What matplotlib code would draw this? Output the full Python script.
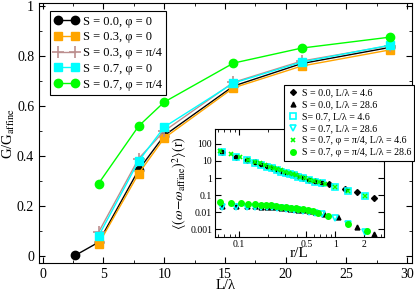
import matplotlib
matplotlib.use("Agg")
import matplotlib.pyplot as plt
from matplotlib.ticker import FixedLocator, FixedFormatter, MultipleLocator, LogLocator, NullFormatter

plt.rcParams['font.family'] = ['Liberation Serif', 'DejaVu Serif']
plt.rcParams['mathtext.fontset'] = 'stix'

# main panel: G/G_affine vs L/lambda
L_lam = [4.6, 7.9, 10.0, 15.7, 21.3, 28.6]
L_lam_s00 = [2.7, 4.6, 7.9, 10.0, 15.7, 21.3, 28.6]
G_s00_p0 = [0.003, 0.055, 0.345, 0.482, 0.68, 0.77, 0.835]
G_s03_p0 = [0.048, 0.33, 0.472, 0.673, 0.76, 0.825]
G_s03_p45 = [0.095, 0.39, 0.50, 0.695, 0.78, 0.842]
G_s07_p0 = [0.08, 0.38, 0.516, 0.692, 0.776, 0.844]
G_s07_p45 = [0.29, 0.52, 0.616, 0.772, 0.832, 0.876]

# inset: <(w - w_affine)^2>(r) vs r/L
r_b46 = [0.066, 0.093, 0.12, 0.146, 0.17, 0.195, 0.22, 0.247, 0.275, 0.305, 0.335,
         0.37, 0.41, 0.46, 0.53, 0.62, 0.72, 0.85, 1.25, 1.68, 2.5]
w_b46 = [33, 18, 11.5, 8.2, 6.4, 4.9, 3.9, 3.0, 2.5, 2.1, 1.8,
         1.5, 1.25, 1.0, 0.8, 0.63, 0.52, 0.43, 0.24, 0.15, 0.066]
r_b286 = [0.066, 0.093, 0.12, 0.146, 0.17, 0.195, 0.22, 0.247, 0.275, 0.305, 0.335,
          0.37, 0.41, 0.46, 0.53, 0.62, 0.77, 1.06, 1.67, 2.55]
w_b286 = [0.022, 0.022, 0.022, 0.022, 0.021, 0.021, 0.02, 0.019, 0.018, 0.017, 0.016,
          0.015, 0.014, 0.013, 0.011, 0.0095, 0.0073, 0.0051, 0.0014, 0.00052]
r_c46 = [0.066, 0.093, 0.12, 0.146, 0.17, 0.195, 0.22, 0.247, 0.275, 0.305, 0.335,
         0.37, 0.41, 0.46, 0.53, 0.62, 0.72, 1.0, 1.34, 2.05]
w_c46 = [32, 17, 11, 8.0, 6.2, 4.7, 3.7, 2.9, 2.4, 2.0, 1.7,
         1.45, 1.2, 0.95, 0.77, 0.62, 0.5, 0.28, 0.17, 0.088]
r_c286 = [0.066, 0.093, 0.12, 0.146, 0.17, 0.195, 0.22, 0.247, 0.275, 0.305, 0.335,
          0.37, 0.41, 0.46, 0.53, 0.62, 0.72, 1.0, 1.34, 2.05]
w_c286 = [0.021, 0.021, 0.021, 0.021, 0.02, 0.02, 0.019, 0.018, 0.017, 0.016, 0.015,
          0.014, 0.0135, 0.012, 0.0105, 0.009, 0.0075, 0.0045, 0.0019, 0.0007]
r_g46 = [0.063, 0.083, 0.103, 0.124, 0.145, 0.166, 0.187, 0.21, 0.23, 0.25, 0.275, 0.30,
         0.33, 0.36, 0.39, 0.43, 0.48, 0.54, 0.6, 0.68, 0.78, 1.0, 1.34, 2.05]
w_g46 = [37, 26, 16.5, 12, 9, 7.2, 5.8, 4.7, 4.0, 3.4, 2.9, 2.4,
         2.0, 1.7, 1.45, 1.2, 0.98, 0.8, 0.67, 0.55, 0.45, 0.29, 0.17, 0.09]
r_g286 = [0.063, 0.083, 0.104, 0.125, 0.146, 0.168, 0.19, 0.214, 0.241, 0.272, 0.306,
          0.346, 0.39, 0.41, 0.46, 0.52, 0.59, 0.665, 0.845, 1.34, 2.12]
w_g286 = [0.039, 0.035, 0.032, 0.031, 0.028, 0.027, 0.026, 0.025, 0.023, 0.021, 0.0196,
          0.018, 0.0168, 0.016, 0.0148, 0.0135, 0.0115, 0.0088, 0.0058, 0.002, 0.00073]

orange = '#FFA500'
brown = '#BC8F8F'
cyan = '#00FFFF'
green = '#00FF00'

fig = plt.figure(figsize=(4.15, 2.92), dpi=100)
ax = fig.add_axes([0.094, 0.0993, 0.899, 0.890])

ax.plot(L_lam_s00, G_s00_p0, '-o', color='black', ms=6, lw=1, label=r'S = 0.0, φ = 0')
ax.plot(L_lam, G_s03_p0, '-s', color=orange, ms=6, lw=1, label=r'S = 0.3, φ = 0')
ax.plot(L_lam, G_s03_p45, '-+', color=brown, ms=8, mew=1.2, lw=1, label=r'S = 0.3, φ = π/4')
ax.plot(L_lam, G_s07_p0, '-s', color=cyan, ms=6, lw=1, label=r'S = 0.7, φ = 0')
ax.plot(L_lam, G_s07_p45, '-o', color=green, ms=6, lw=1, label=r'S = 0.7, φ = π/4')

ax.set_xlim(-0.3, 30.4)
ax.set_ylim(-0.028, 1.012)
ax.xaxis.set_major_locator(MultipleLocator(5))
ax.xaxis.set_minor_locator(MultipleLocator(2.5))
ax.yaxis.set_minor_locator(MultipleLocator(0.1))
ax.set_yticks([0, 0.2, 0.4, 0.6, 0.8, 1.0])
ax.set_yticklabels(['0', '0.2', '0.4', '0.6', '0.8', '1'])
ax.tick_params(which='both', direction='in', top=True, right=True, labelsize=10)
ax.tick_params(which='major', length=4)
ax.tick_params(which='minor', length=2)
ax.set_xlabel('L/λ', fontsize=10.5, labelpad=-1)
ax.set_ylabel(r'G/G$_{\rm affine}$', fontsize=10.5, labelpad=0)

leg1 = ax.legend(loc='upper left', bbox_to_anchor=(0.029, 0.969), fontsize=9,
                 numpoints=2, handlelength=2.0, handletextpad=0.3, borderpad=0.35,
                 labelspacing=0.3, fancybox=False, framealpha=1, edgecolor='black',
                 borderaxespad=0)
leg1.get_frame().set_linewidth(0.8)

# inset
ins = fig.add_axes([0.518, 0.188, 0.407, 0.370])
h1, = ins.plot(r_b46, w_b46, 'D', color='black', ms=3, ls='none', label='S = 0.0, L/λ = 4.6')
h2, = ins.plot(r_b286, w_b286, '^', color='black', ms=3.5, ls='none', label='S = 0.0, L/λ = 28.6')
h3, = ins.plot(r_c46, w_c46, 's', mfc='none', mec=cyan, mew=1.2, ms=4, ls='none',
               label='S= 0.7, L/λ = 4.6')
h4, = ins.plot(r_c286, w_c286, 'v', mfc='none', mec=cyan, mew=1.2, ms=4, ls='none',
               label='S = 0.7, L/λ = 28.6')
h5, = ins.plot(r_g46, w_g46, 'x', color=green, ms=3.5, mew=1.2, ls='none',
               label='S = 0.7, φ = π/4, L/λ = 4.6')
h6, = ins.plot(r_g286, w_g286, 'o', color=green, ms=4, ls='none',
               label='S = 0.7, φ = π/4, L/λ = 28.6')
ins.set_xscale('log')
ins.set_yscale('log')
ins.set_xlim(0.056, 3.2)
ins.set_ylim(3.4e-4, 750)
ins.xaxis.set_major_locator(FixedLocator([0.1, 0.5, 1, 2]))
ins.xaxis.set_major_formatter(FixedFormatter(['0.1', '0.5', '1', '2']))
ins.xaxis.set_minor_locator(LogLocator(base=10, subs=(0.2, 0.3, 0.4, 0.6, 0.7, 0.8, 0.9)))
ins.xaxis.set_minor_formatter(NullFormatter())
ins.yaxis.set_major_locator(FixedLocator([0.001, 0.01, 0.1, 1, 10, 100]))
ins.yaxis.set_major_formatter(FixedFormatter(['0.001', '0.01', '0.1', '1', '10', '100']))
ins.yaxis.set_minor_locator(LogLocator(base=10, subs=(0.2, 0.3, 0.4, 0.5, 0.6, 0.7, 0.8, 0.9)))
ins.yaxis.set_minor_formatter(NullFormatter())
ins.tick_params(which='both', direction='in', top=True, right=True, labelsize=7, pad=2)
ins.tick_params(which='major', length=4)
ins.tick_params(which='minor', length=2)
ins.set_xlabel('r/L', fontsize=11, labelpad=-1)
ins.set_ylabel(r'$\langle(\omega\!-\!\omega_{\rm affine})^2\rangle(\mathrm{r})$', fontsize=10, labelpad=1)

leg2 = fig.legend(handles=[h1, h2, h3, h4, h5, h6], loc='upper left',
                  bbox_to_anchor=(284 / 415, 1 - 85 / 292), fontsize=7.2, numpoints=1,
                  handlelength=1.0, handletextpad=0.4, borderpad=0.35, labelspacing=0.3,
                  fancybox=False, framealpha=1, edgecolor='black', borderaxespad=0)
leg2.get_frame().set_linewidth(0.8)

fig.savefig('out.png', dpi=100)
